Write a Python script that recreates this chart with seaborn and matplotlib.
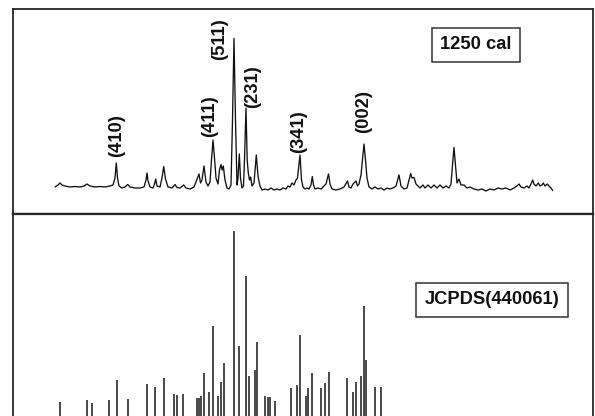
import matplotlib
matplotlib.use("Agg")
import matplotlib.pyplot as plt
import seaborn as sns
import pandas as pd

# ---- measured trace (2theta, intensity a.u.) ----
trace_2theta = [5.5, 5.8, 6.0, 6.2, 6.5, 7.0, 7.5, 8.0, 8.4, 8.7, 9.0, 9.5, 10.0, 10.5, 11.0, 11.3, 11.5, 11.63, 11.75, 11.9,
                12.2, 12.5, 12.77, 13.0, 13.5, 14.0, 14.4, 14.6, 14.7, 14.8, 15.0, 15.3, 15.45, 15.57, 15.7, 16.0, 16.2, 16.37, 16.55, 16.8,
                17.2, 17.5, 17.7, 18.0, 18.37, 18.6, 19.0, 19.4, 19.6, 19.75, 19.9, 20.05, 20.2, 20.4, 20.6, 20.8, 21.0, 21.15, 21.3, 21.45,
                21.6, 21.8, 21.95, 22.1, 22.22, 22.33, 22.5, 22.7, 22.9, 23.1, 23.25, 23.4, 23.55, 23.7, 23.8, 23.93, 24.05, 24.2, 24.35, 24.45,
                24.6, 24.72, 24.83, 24.95, 25.07, 25.2, 25.4, 25.63, 25.8, 26.0, 26.2, 26.5, 26.8, 27.1, 27.4, 27.7, 28.0, 28.3, 28.6, 28.8,
                29.0, 29.2, 29.4, 29.6, 29.75, 30.0, 30.15, 30.3, 30.5, 30.7, 30.9, 31.1, 31.23, 31.35, 31.5, 31.8, 32.1, 32.4, 32.6, 32.85,
                33.0, 33.2, 33.6, 34.0, 34.4, 34.75, 34.9, 35.1, 35.3, 35.6, 35.75, 35.9, 36.1, 36.25, 36.4, 36.55, 36.7, 36.9, 37.2, 37.5,
                37.8, 38.1, 38.4, 38.7, 39.0, 39.3, 39.6, 39.9, 40.1, 40.4, 40.7, 40.9, 41.07, 41.2, 41.4, 41.6, 41.8, 42.0, 42.3, 42.5,
                42.8, 43.1, 43.4, 43.7, 44.0, 44.3, 44.6, 44.9, 45.1, 45.25, 45.4, 45.55, 45.7, 45.9, 46.1, 46.4, 46.7, 47.0, 47.4, 47.8,
                48.2, 48.6, 49.0, 49.4, 49.8, 50.2, 50.6, 51.0, 51.4, 51.7, 51.9, 52.1, 52.4, 52.7, 52.9, 53.1, 53.27, 53.4, 53.6, 53.83,
                54.0, 54.2, 54.33, 54.5, 54.73, 54.9, 55.1, 55.27]
trace_intensity = [27, 29, 31, 29, 28, 27, 27.5, 27, 28, 30, 28, 27, 27.5, 27, 28, 29, 36, 51, 36, 28,
                   26, 27, 29.5, 27, 26, 26, 27, 34, 41, 33, 27, 26, 30, 35, 28, 27, 36, 47.5, 35, 27,
                   26, 29.5, 26.5, 26, 29, 26, 25, 27, 32, 36, 40, 31, 34, 48, 32, 28, 32, 54, 74, 56,
                   36, 30, 44, 49.5, 44, 48, 34, 26, 25, 29, 94, 175.5, 94, 29, 36, 60, 36, 26, 28, 54,
                   106, 54, 41, 34, 37, 28, 31, 59, 38, 28, 24, 25, 24, 26, 24, 25, 24, 26, 25, 28,
                   27, 31, 29, 34, 36, 59, 34, 27, 25, 26, 25, 29, 37.5, 29, 25, 26, 25, 28, 30, 40,
                   30, 25, 24, 25, 27, 33, 27, 26, 30, 33, 28, 30, 39, 54, 70, 54, 36, 27, 25, 27,
                   25, 26, 24, 26, 25, 26, 28, 39, 28, 25, 26, 34, 40.5, 36, 36.5, 30, 28, 26, 29, 26,
                   29, 26, 29, 26, 29, 26, 28, 26, 30, 49, 66.5, 49, 31, 35, 29, 29, 26, 27, 25, 24,
                   25, 23, 25, 24, 26, 25, 26, 24, 26, 28, 30, 27, 26, 28, 26, 30, 34, 30, 28, 31,
                   28, 29, 31, 28, 30, 28, 26, 23.5]

# ---- peak indexing labels ----
hkl_labels = ["(410)", "(411)", "(511)", "(231)", "(341)", "(002)"]
hkl_2theta = [11.67, 20.93, 22.0, 25.23, 29.83, 36.33]
hkl_label_y = [57, 77, 154, 106, 61, 81]

# ---- JCPDS reference pattern (2theta, relative intensity) ----
ref_2theta = [6.03, 8.67, 9.17, 10.93, 11.67, 12.77, 14.73, 15.53, 16.4, 17.4, 17.67, 18.33, 19.67, 19.9, 20.13, 20.4,
              20.87, 21.33, 21.83, 22.07, 22.37, 23.37, 23.93, 24.6, 24.93, 25.5, 25.67, 26.5, 26.77, 27.0, 27.53,
              29.1, 29.67, 29.97, 30.63, 30.83, 31.23, 32.1, 32.5, 32.93, 34.73, 35.33, 35.57, 36.07, 36.37, 36.63,
              37.5, 38.1]
ref_intensity = [14, 16, 13, 16, 36, 17, 32, 29, 38, 22, 21, 22, 18, 18, 20, 43,
                 24, 90, 20, 34, 53, 185, 70, 140, 40, 46, 74, 20, 19, 19, 15,
                 28, 31, 81, 20, 28, 43, 28, 33, 44, 38, 24, 34, 40, 110, 56,
                 29, 29]

sample_label = "1250 cal"
ref_label = "JCPDS(440061)"

sns.set_style("white")
plt.rcParams['font.family'] = ['Liberation Sans', 'DejaVu Sans']

W, H = 595, 416
fig = plt.figure(figsize=(W / 100, H / 100), dpi=100)
x0, x1 = 13 / W, 593 / W
ax_top = fig.add_axes([x0, 1 - 214 / H, x1 - x0, (214 - 9) / H])
ax_bot = fig.add_axes([x0, 0, x1 - x0, 1 - 214 / H])

xlim = (1.3, 59.3)
edge = "#262626"

df_trace = pd.DataFrame({"2theta": trace_2theta, "I": trace_intensity})
sns.lineplot(data=df_trace, x="2theta", y="I", ax=ax_top, color="#111111", lw=0.95, sort=False, estimator=None)
ax_top.set_xlim(*xlim)
ax_top.set_ylim(0, 205)

for lab, xx, yy in zip(hkl_labels, hkl_2theta, hkl_label_y):
    ax_top.text(xx, yy, lab, rotation=90, ha="center", va="bottom", fontsize=13.2,
                fontweight="bold", color="#111111")

ax_top.text(47.6, 169, sample_label, ha="center", va="center", fontsize=13.2, fontweight="bold",
            color="#111111",
            bbox=dict(boxstyle="square,pad=0.45", fc="white", ec="#333333", lw=1.1))

ax_bot.vlines(ref_2theta, 0, ref_intensity, color="#2a2a2a", lw=1.2)
ax_bot.set_xlim(*xlim)
ax_bot.set_ylim(0, 202)
ax_bot.text(49.2, 116, ref_label, ha="center", va="center", fontsize=13.2, fontweight="bold",
            color="#111111",
            bbox=dict(boxstyle="square,pad=0.45", fc="white", ec="#333333", lw=1.1))

for ax in (ax_top, ax_bot):
    ax.set_xticks([])
    ax.set_yticks([])
    ax.set_xlabel("")
    ax.set_ylabel("")
    for s in ax.spines.values():
        s.set_color(edge)
        s.set_linewidth(1.3)

ax_top.spines["bottom"].set_linewidth(1.6)
ax_bot.spines["top"].set_linewidth(1.6)
ax_bot.spines["bottom"].set_visible(False)

fig.savefig("out.png", dpi=100, facecolor="white")
